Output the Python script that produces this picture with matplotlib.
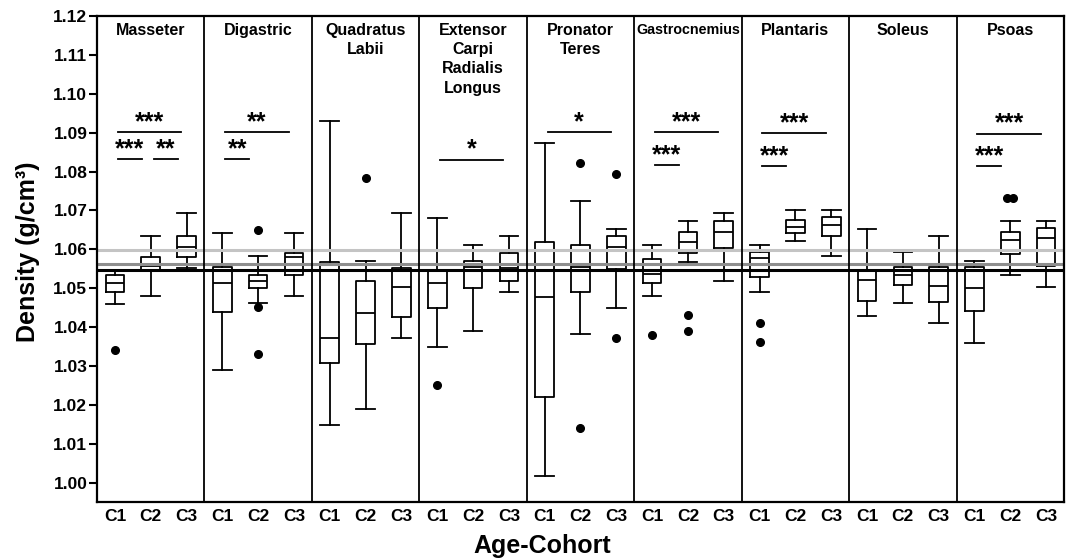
import matplotlib
matplotlib.use('Agg')
import matplotlib.pyplot as plt
import matplotlib.transforms as mtransforms
import numpy as np

plt.rcParams['font.family'] = ['Liberation Sans', 'DejaVu Sans']
plt.rcParams['font.weight'] = 'bold'

muscles = ['Masseter', 'Digastric', 'Quadratus\nLabii', 'Extensor\nCarpi\nRadialis\nLongus',
           'Pronator\nTeres', 'Gastrocnemius', 'Plantaris', 'Soleus', 'Psoas']
cohorts = ['C1', 'C2', 'C3']

# box statistics, muscle-major order (C1, C2, C3 for each muscle)
whislo = [1.0460, 1.0480, 1.0551,
          1.0290, 1.0461, 1.0480,
          1.0149, 1.0190, 1.0371,
          1.0349, 1.0390, 1.0491,
          1.0018, 1.0382, 1.0450,
          1.0480, 1.0568, 1.0519,
          1.0491, 1.0622, 1.0584,
          1.0429, 1.0461, 1.0410,
          1.0360, 1.0534, 1.0502]
q1 = [1.0489, 1.0543, 1.0579,
      1.0438, 1.0501, 1.0534,
      1.0307, 1.0356, 1.0426,
      1.0448, 1.0500, 1.0519,
      1.0221, 1.0489, 1.0550,
      1.0513, 1.0591, 1.0603,
      1.0528, 1.0641, 1.0633,
      1.0467, 1.0508, 1.0465,
      1.0440, 1.0587, 1.0557]
med = [1.0513, 1.0558, 1.0607,
       1.0513, 1.0519, 1.0579,
       1.0371, 1.0437, 1.0503,
       1.0512, 1.0555, 1.0551,
       1.0476, 1.0555, 1.0607,
       1.0536, 1.0618, 1.0645,
       1.0577, 1.0658, 1.0663,
       1.0521, 1.0534, 1.0505,
       1.0500, 1.0624, 1.0628]
q3 = [1.0534, 1.0581, 1.0635,
      1.0555, 1.0534, 1.0591,
      1.0567, 1.0519, 1.0551,
      1.0543, 1.0571, 1.0590,
      1.0618, 1.0611, 1.0633,
      1.0575, 1.0645, 1.0673,
      1.0594, 1.0675, 1.0684,
      1.0545, 1.0554, 1.0555,
      1.0555, 1.0645, 1.0654]
whishi = [1.0545, 1.0633, 1.0693,
          1.0641, 1.0583, 1.0641,
          1.0931, 1.0571, 1.0693,
          1.0680, 1.0611, 1.0633,
          1.0873, 1.0723, 1.0652,
          1.0611, 1.0673, 1.0693,
          1.0611, 1.0701, 1.0701,
          1.0652, 1.0592, 1.0633,
          1.0571, 1.0673, 1.0673]
fliers = [[1.034], [], [],
          [], [1.065, 1.0451, 1.033], [],
          [], [1.0783], [],
          [1.025], [], [],
          [], [1.0823, 1.014], [1.0793, 1.0371],
          [1.038], [1.0431, 1.0391], [],
          [1.0411, 1.0361], [], [],
          [], [], [],
          [], [1.0733, 1.0733], []]

# reference lines
ref_levels = [1.0597, 1.0561, 1.0547]
ref_colors = ['#c4c4c4', '#8e8e8e', '#000000']

# significance comparisons
sig_muscle = [0, 0, 0, 1, 1, 3, 4, 5, 5, 6, 6, 8, 8]
sig_a = [0, 0, 1, 0, 0, 0, 0, 0, 0, 0, 0, 0, 0]
sig_b = [2, 1, 2, 2, 1, 2, 2, 2, 1, 2, 1, 2, 1]
sig_y = [1.0901, 1.0831, 1.0831, 1.0901, 1.0831, 1.0830, 1.0901,
         1.0901, 1.0816, 1.0899, 1.0814, 1.0897, 1.0813]
sig_text = ['***', '***', '**', '**', '**', '*', '*', '***', '***', '***', '***', '***', '***']

W, H = 1072, 559
fig = plt.figure(figsize=(W / 100, H / 100), dpi=100)
ax = fig.add_axes([97 / W, 1 - 502 / H, (1064 - 97) / W, (502 - 16) / H])

n = len(med)
positions = np.arange(1, n + 1)
stats = [dict(med=med[i], q1=q1[i], q3=q3[i], whislo=whislo[i], whishi=whishi[i], fliers=[])
         for i in range(n)]
lp = dict(color='black', lw=1.3)
ax.bxp(stats, positions=positions, widths=0.52, capwidths=0.52, showfliers=False,
       boxprops=lp, whiskerprops=lp, capprops=lp, medianprops=lp)

for i in range(n):
    vals = fliers[i]
    for j, v in enumerate(vals):
        dup = [k for k, w in enumerate(vals) if w == v]
        off = 0.0
        if len(dup) > 1:
            off = (dup.index(j) - (len(dup) - 1) / 2) * 0.17
        ax.plot(positions[i] + off, v, 'o', color='black', markersize=5.5, zorder=4)

for lvl, c in zip(ref_levels, ref_colors):
    ax.axhline(lvl, color=c, lw=2.2, zorder=5)

for k in range(1, len(muscles)):
    ax.axvline(3 * k + 0.5, color='black', lw=1.3, zorder=6)

title_tr = ax.transData + mtransforms.ScaledTranslation(0, -7 / 100, fig.dpi_scale_trans)
for k, name in enumerate(muscles):
    fs = 10.3 if name == 'Gastrocnemius' else 11.5
    ax.text(3 * k + 2, 1.12, name, ha='center', va='top', fontsize=fs, fontweight='bold',
            linespacing=1.35, transform=title_tr)

for m, a, b, y, t in zip(sig_muscle, sig_a, sig_b, sig_y, sig_text):
    xa = 3 * m + 1 + a + 0.08
    xb = 3 * m + 1 + b - (0.15 if b - a == 2 else 0.25)
    ax.plot([xa, xb], [y, y], color='black', lw=1.3)
    ax.text((xa + xb) / 2, y + 0.0008, t, ha='center', va='baseline', fontsize=18, fontweight='bold')

ax.set_xlim(0.5, n + 0.5)
ax.set_ylim(0.995, 1.12)
ax.set_yticks(np.round(np.arange(1.00, 1.1201, 0.01), 2))
ax.set_yticklabels(['%.2f' % v for v in np.arange(1.00, 1.1201, 0.01)], fontsize=12.5, fontweight='bold')
ax.set_xticks(positions)
ax.set_xticklabels(cohorts * len(muscles), fontsize=12.5, fontweight='bold')
ax.tick_params(axis='x', length=0, pad=5)
ax.tick_params(axis='y', length=6, width=1.5, pad=1, direction='out')
for s in ax.spines.values():
    s.set_linewidth(1.6)
    s.set_zorder(7)

fig.text(28 / W, 1 - 252 / H, 'Density (g/cm³)', rotation=90, ha='center', va='center',
         fontsize=18, fontweight='bold')
fig.text(542 / W, 1 - 553 / H, 'Age-Cohort', ha='center', va='baseline', fontsize=18, fontweight='bold')

fig.savefig('out.png', dpi=100)
